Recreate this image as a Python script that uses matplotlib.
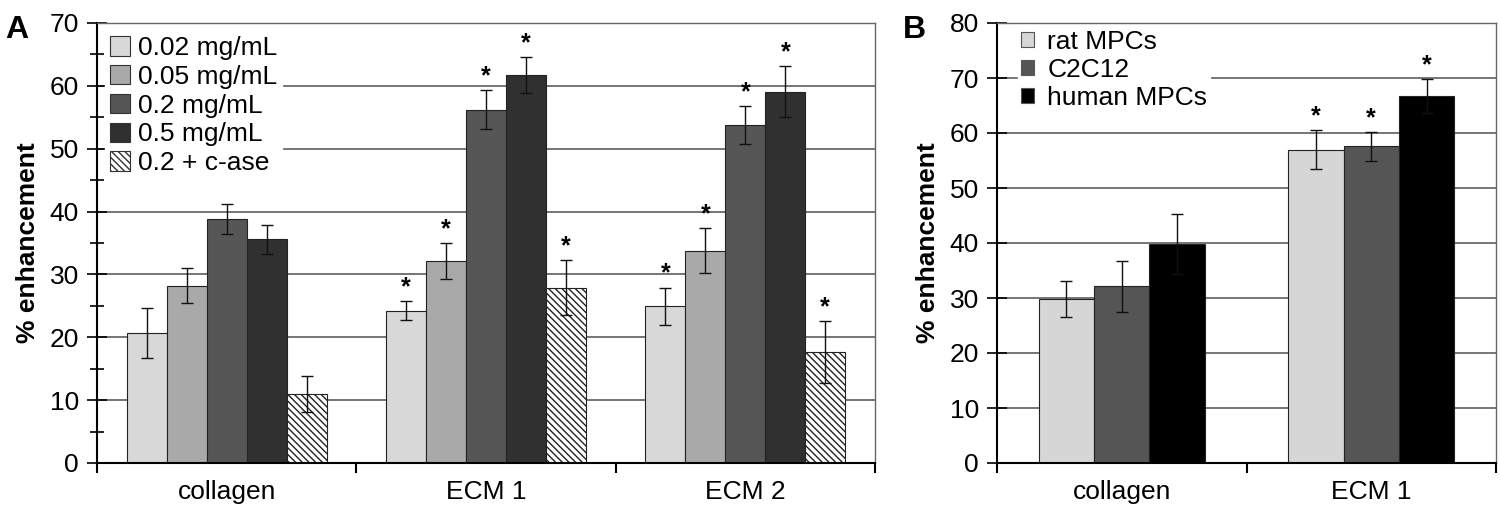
import numpy as np
import matplotlib
matplotlib.use("Agg")
import matplotlib.pyplot as plt
from matplotlib.patches import Patch

plt.rcParams['font.family'] = ['Liberation Sans', 'DejaVu Sans']
plt.rcParams['hatch.linewidth'] = 1.0

# Panel A data
groups_a = ["collagen", "ECM 1", "ECM 2"]
conc_labels = ["0.02 mg/mL", "0.05 mg/mL", "0.2 mg/mL", "0.5 mg/mL", "0.2 + c-ase"]
vals_a = np.array([
    [20.7, 28.2, 38.8, 35.6, 11.0],
    [24.2, 32.1, 56.2, 61.7, 27.9],
    [24.9, 33.8, 53.8, 59.1, 17.7],
])
err_a = np.array([
    [4.0, 2.8, 2.4, 2.3, 2.9],
    [1.5, 2.9, 3.1, 2.9, 4.4],
    [3.0, 3.6, 3.0, 4.0, 4.9],
])
star_a = np.array([
    [0, 0, 0, 0, 0],
    [1, 1, 1, 1, 1],
    [1, 1, 1, 1, 1],
])

# Panel B data
groups_b = ["collagen", "ECM 1"]
cell_labels = ["rat MPCs", "C2C12", "human MPCs"]
vals_b = np.array([
    [29.8, 32.1, 39.8],
    [57.0, 57.6, 66.8],
])
err_b = np.array([
    [3.3, 4.6, 5.4],
    [3.5, 2.6, 3.1],
])
star_b = np.array([
    [0, 0, 0],
    [1, 1, 1],
])

colors_a = ["#d8d8d8", "#a9a9a9", "#565656", "#303030", "white"]
hatches_a = [None, None, None, None, "\\\\\\\\\\"]
colors_b = ["#d6d6d6", "#555555", "#000000"]

fig = plt.figure(figsize=(15, 5.08), dpi=100)
ax1 = fig.add_axes([97 / 1500, 45 / 508, (875 - 97) / 1500, 440 / 508])
ax2 = fig.add_axes([997 / 1500, 45 / 508, (1496 - 997) / 1500, 440 / 508])


def style_axis(ax, ymax, ngroups, minor):
    ax.set_xlim(0, ngroups)
    ax.set_ylim(0, ymax)
    ax.set_yticks(np.arange(0, ymax + 1, 10))
    if minor:
        ax.set_yticks(np.arange(5, ymax, 10), minor=True)
    ax.yaxis.grid(True, color="#505050", linewidth=1.1)
    ax.set_axisbelow(True)
    ax.set_xticks(np.arange(ngroups) + 0.5)
    ax.set_xticks(np.arange(ngroups + 1), minor=True)
    ax.tick_params(axis="x", which="major", length=0, labelsize=19, pad=12)
    ax.tick_params(axis="x", which="minor", length=7, width=1.5, direction="out")
    ax.tick_params(axis="y", which="both", direction="inout", length=14, width=1.2,
                   labelsize=19, pad=6)
    ax.tick_params(axis="y", which="minor", length=10)
    for s in ["left", "bottom"]:
        ax.spines[s].set_linewidth(1.5)
        ax.spines[s].set_color("black")
    for s in ["top", "right"]:
        ax.spines[s].set_linewidth(1.0)
        ax.spines[s].set_color("#666666")
    ax.set_ylabel("% enhancement", fontsize=19, fontweight="bold", labelpad=7)


def draw_bars(ax, vals, errs, stars, colors, hatches, width):
    ng, nb = vals.shape
    centers = np.arange(ng) + 0.5
    for j in range(nb):
        x = centers + (j - (nb - 1) / 2) * width
        ax.bar(x, vals[:, j], width, color=colors[j], edgecolor="#222222",
               linewidth=0.8, hatch=hatches[j] if hatches else None, zorder=2)
        ax.errorbar(x, vals[:, j], yerr=errs[:, j], fmt="none", ecolor="#111111",
                    elinewidth=1.0, capsize=4, capthick=1.0, zorder=3)
        for i in range(ng):
            if stars[i, j]:
                ax.text(x[i], vals[i, j] + errs[i, j] + 0.3, "*", ha="center",
                        va="bottom", fontsize=18, fontweight="bold", zorder=4)


# Panel A
style_axis(ax1, 70, 3, True)
draw_bars(ax1, vals_a, err_a, star_a, colors_a, hatches_a, 0.154)
ax1.set_xticklabels(groups_a)
handles_a = [Patch(facecolor=c, edgecolor="#333333", hatch=h, linewidth=0.8)
             for c, h in zip(colors_a, hatches_a)]
leg1 = ax1.legend(handles_a, conc_labels, loc="upper left", fontsize=19,
                  frameon=True, fancybox=False, framealpha=1, edgecolor="white",
                  handlelength=0.75, handleheight=0.75, handletextpad=0.3,
                  labelspacing=0.18, borderpad=0.2, borderaxespad=0.3)
leg1.set_zorder(5)
fig.text(5 / 1500, 1 - 30 / 508, "A", fontsize=23, fontweight="bold", va="center")

# Panel B
style_axis(ax2, 80, 2, False)
draw_bars(ax2, vals_b, err_b, star_b, colors_b, None, 0.222)
ax2.set_xticklabels(groups_b)
handles_b = [Patch(facecolor=c, edgecolor="#555555", linewidth=0.8) for c in colors_b]
leg2 = ax2.legend(handles_b, cell_labels, loc="upper left", fontsize=19,
                  bbox_to_anchor=(0.035, 1.0),
                  frameon=True, fancybox=False, framealpha=1, edgecolor="white",
                  handlelength=0.5, handleheight=0.5, handletextpad=0.5,
                  labelspacing=0.16, borderpad=0.1, borderaxespad=0.15)
leg2.set_zorder(5)
fig.text(903 / 1500, 1 - 30 / 508, "B", fontsize=23, fontweight="bold", va="center")

fig.savefig("out.png", dpi=100)
